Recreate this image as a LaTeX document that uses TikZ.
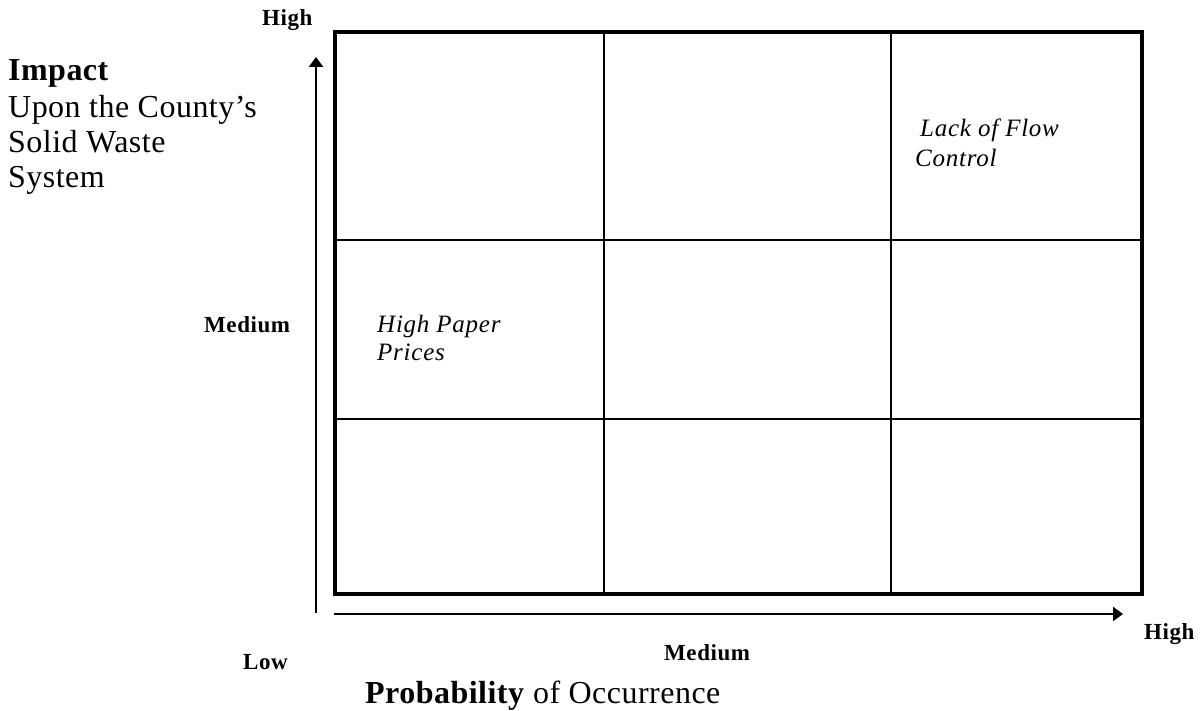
\documentclass[tikz,border=0pt]{standalone}
\usepackage{fontspec}
\setmainfont{Liberation Serif}
\usetikzlibrary{arrows.meta}
\tikzset{
  big/.style={inner sep=0pt, anchor=base west, font=\fontsize{32}{34}\selectfont\addfontfeature{LetterSpace=1.5}},
  bigbold/.style={big, font=\fontsize{32}{34}\selectfont\bfseries\addfontfeature{LetterSpace=1.5}},
  lbl/.style={inner sep=0pt, anchor=base west, font=\fontsize{23}{26}\selectfont\bfseries\addfontfeature{LetterSpace=2.5}},
  risk/.style={inner sep=0pt, anchor=base west, font=\fontsize{25}{28}\selectfont\itshape\addfontfeature{LetterSpace=3}},
  outer/.style={line width=4.5pt},
  inner/.style={line width=2pt},
  axis/.style={line width=2.2pt, -{Triangle[length=10pt,width=14pt]}}
}
\begin{document}
\begin{tikzpicture}[x=1pt,y=-1pt]
\useasboundingbox (0,0) rectangle (1200,711);
% grid
\draw[inner] (604,32) -- (604,594);
\draw[inner] (891,32) -- (891,594);
\draw[inner] (335,240) -- (1142,240);
\draw[inner] (335,419) -- (1142,419);
\draw[outer] (335,32) rectangle (1142,594);
% axes
\coordinate (vstart) at (316,613);
\coordinate (vend) at (316,57);
\coordinate (hstart) at (334,614);
\coordinate (hend) at (1123,614);
\draw[axis] (vstart) -- (vend);
\draw[axis] (hstart) -- (hend);
% axis labels
\node[lbl] (hightop) at (262,26) {High};
\node[lbl] (medleft) at (204,333) {Medium};
\node[lbl] (low) at (243,669) {Low};
\node[lbl] (medbottom) at (664,660) {Medium};
\node[lbl] (highright) at (1144,639) {High};
% impact title
\node[bigbold] (impact) at (8,81) {Impact};
\node[big] (upon) at (8,118) {Upon the County’s};
\node[big] (solid) at (8,153) {Solid Waste};
\node[big] (system) at (8,188) {System};
% probability title
\node[big] (prob) at (365,703) {\textbf{Probability} of Occurrence};
% risks
\node[risk] (lack) at (920,137) {Lack of Flow};
\node[risk] (control) at (915,167) {Control};
\node[risk] (highpaper) at (377,333) {High Paper};
\node[risk] (prices) at (377,361) {Prices};
\end{tikzpicture}
\end{document}
